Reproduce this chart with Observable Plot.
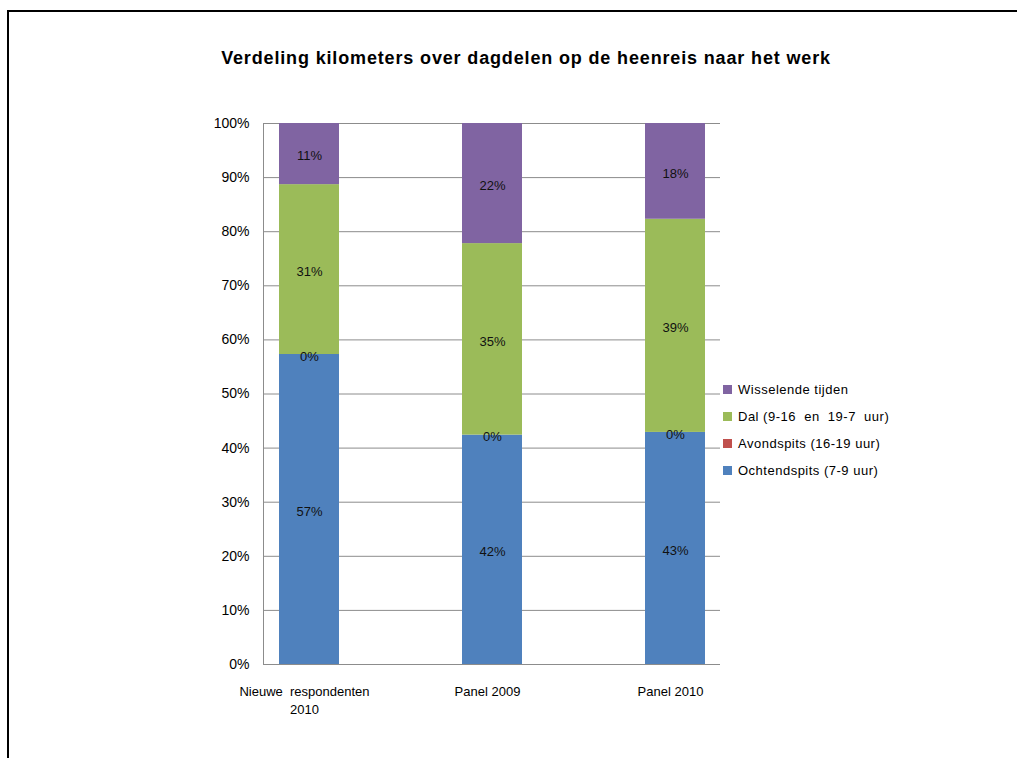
<!DOCTYPE html>
<html>
<head>
<meta charset="utf-8">
<script src="https://cdn.jsdelivr.net/npm/d3@7"></script>
<script src="https://cdn.jsdelivr.net/npm/@observablehq/plot@0.6"></script>
<style>
  html, body { margin: 0; padding: 0; background: #fff; overflow: hidden; }
  body { width: 1017px; height: 758px; position: relative; font-family: "Liberation Sans", Arial, sans-serif; }
  #frame { position: absolute; left: 7px; top: 10px; width: 1050px; height: 800px; border: 2px solid #000; box-sizing: border-box; pointer-events: none; }
  #title { position: absolute; left: 0; width: 1052px; top: 48px; text-align: center; font-weight: bold; font-size: 18px; letter-spacing: 0.85px; color: #000; }
  #chart { position: absolute; left: 0; top: 0; }
  #legend { position: absolute; left: 723px; top: 376px; font-size: 13px; color: #000; letter-spacing: 0.5px; }
  #legend .row { height: 27px; display: flex; align-items: center; white-space: pre; }
  #legend .sw { width: 9px; height: 9px; margin-right: 6px; }
</style>
</head>
<body>
<div id="chart"></div>
<div id="title">Verdeling kilometers over dagdelen op de heenreis naar het werk</div>
<div id="legend"></div>
<div id="frame"></div>
<script>
const categories = ["Nieuwe  respondenten\n2010", "Panel 2009", "Panel 2010"];
const seriesNames = ["Ochtendspits (7-9 uur)", "Avondspits (16-19 uur)", "Dal (9-16  en  19-7  uur)", "Wisselende tijden"];
const seriesColors = ["#4F81BD", "#C0504D", "#9BBB59", "#8064A2"];
const ochtendspits = [57.3, 42.4, 42.9];
const avondspits = [0, 0, 0];
const dal = [31.4, 35.4, 39.4];
const wisselende = [11.3, 22.2, 17.7];
const yTicks = [0, 10, 20, 30, 40, 50, 60, 70, 80, 90, 100];

const seriesValues = [ochtendspits, avondspits, dal, wisselende];
const data = [];
seriesNames.forEach((s, si) => {
  categories.forEach((c, ci) => {
    data.push({category: c, series: s, value: seriesValues[si][ci]});
  });
});

const chart = Plot.plot({
  width: 1017,
  height: 758,
  marginTop: 123,
  marginBottom: 94,
  marginLeft: 263,
  marginRight: 297,
  style: {fontFamily: "Liberation Sans, Arial, sans-serif", background: "transparent"},
  x: {domain: categories, paddingInner: 0.674, paddingOuter: 0.085, label: null},
  y: {domain: [0, 100], label: null},
  color: {domain: seriesNames, range: seriesColors},
  marks: [
    Plot.ruleY(yTicks, {stroke: "#8c8c8c", strokeWidth: 1}),
    Plot.frame({anchor: "left", stroke: "#8c8c8c"}),
    Plot.barY(data, Plot.stackY({x: "category", y: "value", fill: "series", order: seriesNames, z: "series"})),
    Plot.text(data, Plot.stackY({
      x: "category", y: "value", z: "series", order: seriesNames,
      text: d => Math.round(d.value) + "%",
      fontSize: 13, fill: "#111", dy: 2, style: "letter-spacing:0.5px"
    })),
    Plot.axisY({ticks: yTicks, tickSize: 0, tickPadding: 14, tickFormat: d => d + "%", fontSize: 14, style: "letter-spacing:0.6px", color: "#000"}),
    Plot.axisX({tickSize: 0, tickPadding: 19, fontSize: 13, lineHeight: 1.38, color: "#000", dx: -5})
  ]
});
document.getElementById("chart").appendChild(chart);

const legend = document.getElementById("legend");
const order = [3, 2, 1, 0];
order.forEach(i => {
  const row = document.createElement("div");
  row.className = "row";
  const sw = document.createElement("div");
  sw.className = "sw";
  sw.style.background = seriesColors[i];
  const lab = document.createElement("span");
  lab.textContent = seriesNames[i];
  row.appendChild(sw);
  row.appendChild(lab);
  legend.appendChild(row);
});
</script>
</body>
</html>
